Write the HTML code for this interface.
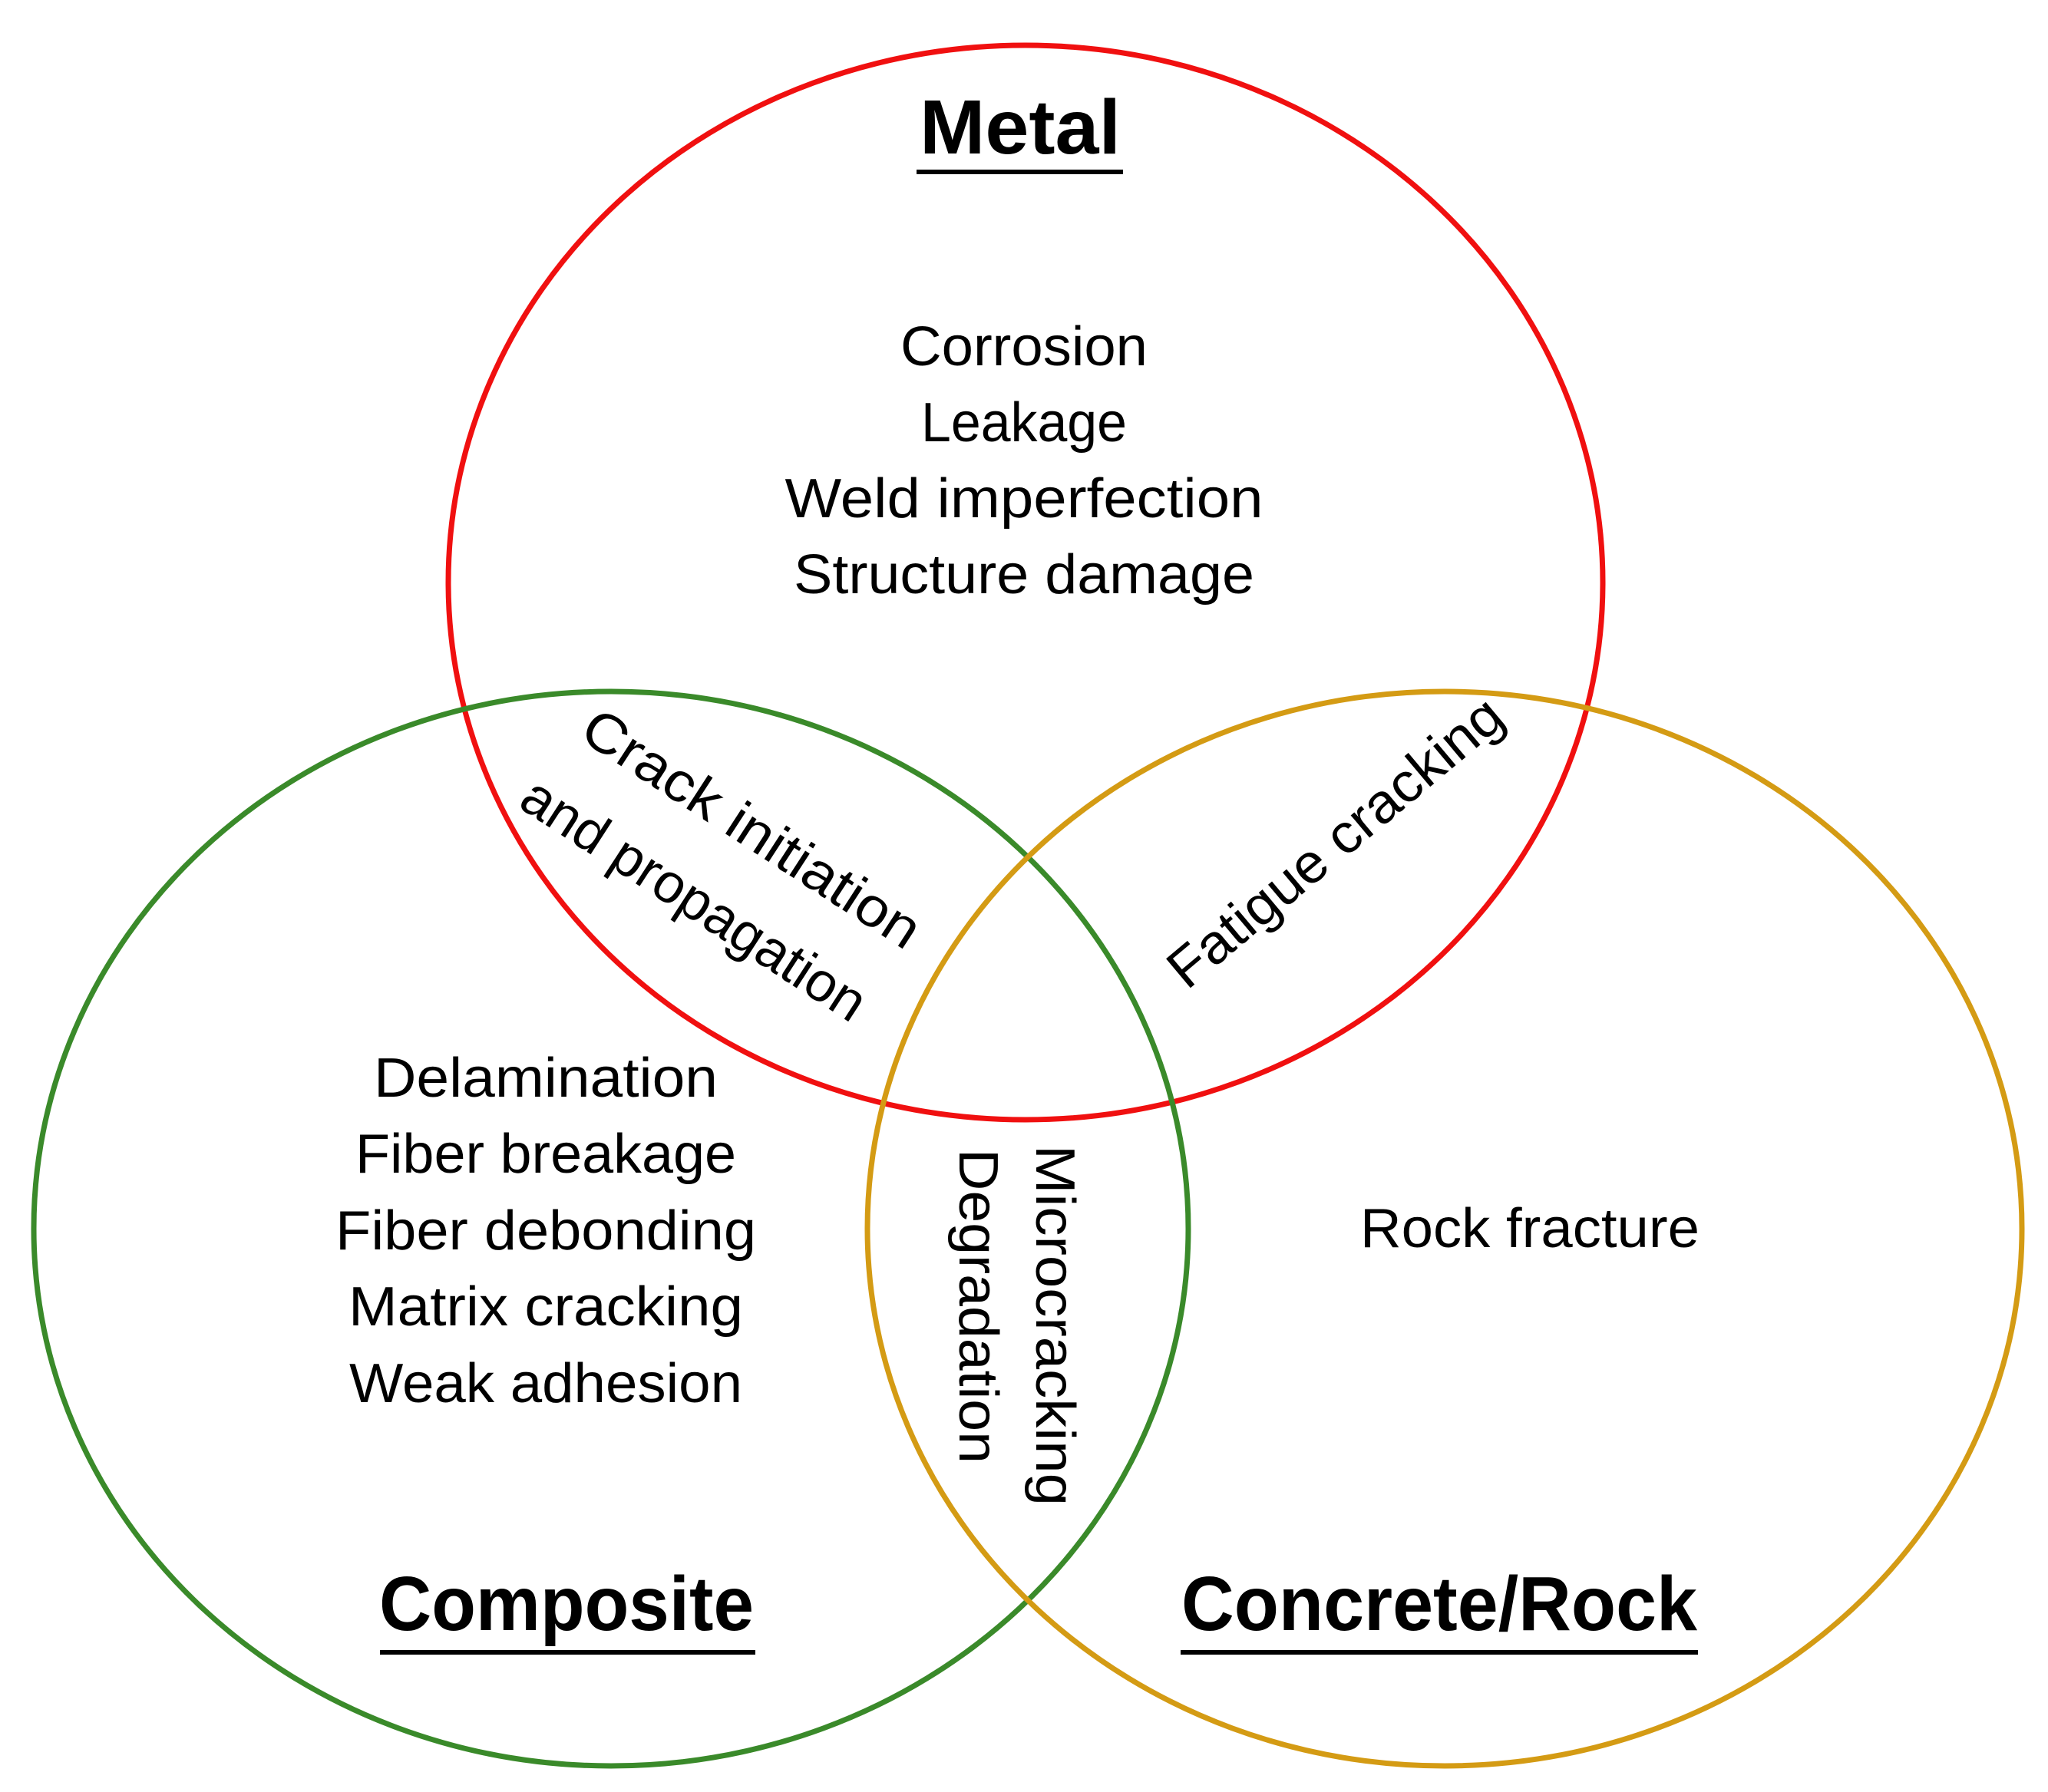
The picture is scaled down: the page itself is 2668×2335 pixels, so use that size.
<!DOCTYPE html>
<html><head><meta charset="utf-8"><style>
html,body{margin:0;padding:0;background:#fff;}
svg{display:block;}
text{font-family:"Liberation Sans",sans-serif;fill:#000;}
</style></head><body>
<svg width="2668" height="2335" viewBox="0 0 2668 2335" xmlns="http://www.w3.org/2000/svg">
<ellipse cx="1336" cy="759" rx="752" ry="700" fill="none" stroke="#f01010" stroke-width="7"/>
<ellipse cx="796" cy="1601" rx="752" ry="700" fill="none" stroke="#3a8a2a" stroke-width="7"/>
<ellipse cx="1882" cy="1601" rx="752" ry="700" fill="none" stroke="#d49b14" stroke-width="7"/>

<g text-anchor="middle">
<text x="1329" y="200" font-size="100" font-weight="bold" textLength="262" lengthAdjust="spacingAndGlyphs">Metal</text>
<rect x="1194" y="221" width="269" height="6"/>
<text x="738" y="2124" font-size="100" font-weight="bold" textLength="488" lengthAdjust="spacingAndGlyphs">Composite</text>
<rect x="495" y="2150" width="489" height="6"/>
<text x="1875" y="2124" font-size="100" font-weight="bold" textLength="672" lengthAdjust="spacingAndGlyphs">Concrete/Rock</text>
<rect x="1538" y="2150" width="674" height="6"/>

<g font-size="72">
<text x="1334" y="476" textLength="322" lengthAdjust="spacingAndGlyphs">Corrosion</text>
<text x="1334" y="575" textLength="268" lengthAdjust="spacingAndGlyphs">Leakage</text>
<text x="1334" y="674" textLength="623" lengthAdjust="spacingAndGlyphs">Weld imperfection</text>
<text x="1334" y="773" textLength="600" lengthAdjust="spacingAndGlyphs">Structure damage</text>

<text x="711" y="1429" textLength="448" lengthAdjust="spacingAndGlyphs">Delamination</text>
<text x="711" y="1528" textLength="496" lengthAdjust="spacingAndGlyphs">Fiber breakage</text>
<text x="711" y="1628" textLength="548" lengthAdjust="spacingAndGlyphs">Fiber debonding</text>
<text x="711" y="1727" textLength="514" lengthAdjust="spacingAndGlyphs">Matrix cracking</text>
<text x="711" y="1827" textLength="512" lengthAdjust="spacingAndGlyphs">Weak adhesion</text>

<text x="1993" y="1625" textLength="442" lengthAdjust="spacingAndGlyphs">Rock fracture</text>

<text transform="translate(966,1100) rotate(33)" x="0" y="0" textLength="510" lengthAdjust="spacingAndGlyphs">Crack initiation</text>
<text transform="translate(891,1192) rotate(33)" x="0" y="0" textLength="520" lengthAdjust="spacingAndGlyphs">and propagation</text>
<text transform="translate(1755,1116) rotate(-40)" x="0" y="0" textLength="545" lengthAdjust="spacingAndGlyphs">Fatigue cracking</text>
<text transform="translate(1350,1727) rotate(90)" x="0" y="0" textLength="470" lengthAdjust="spacingAndGlyphs">Microcracking</text>
<text transform="translate(1250,1702) rotate(90)" x="0" y="0" textLength="410" lengthAdjust="spacingAndGlyphs">Degradation</text>
</g>
</g>
</svg>
</body></html>
